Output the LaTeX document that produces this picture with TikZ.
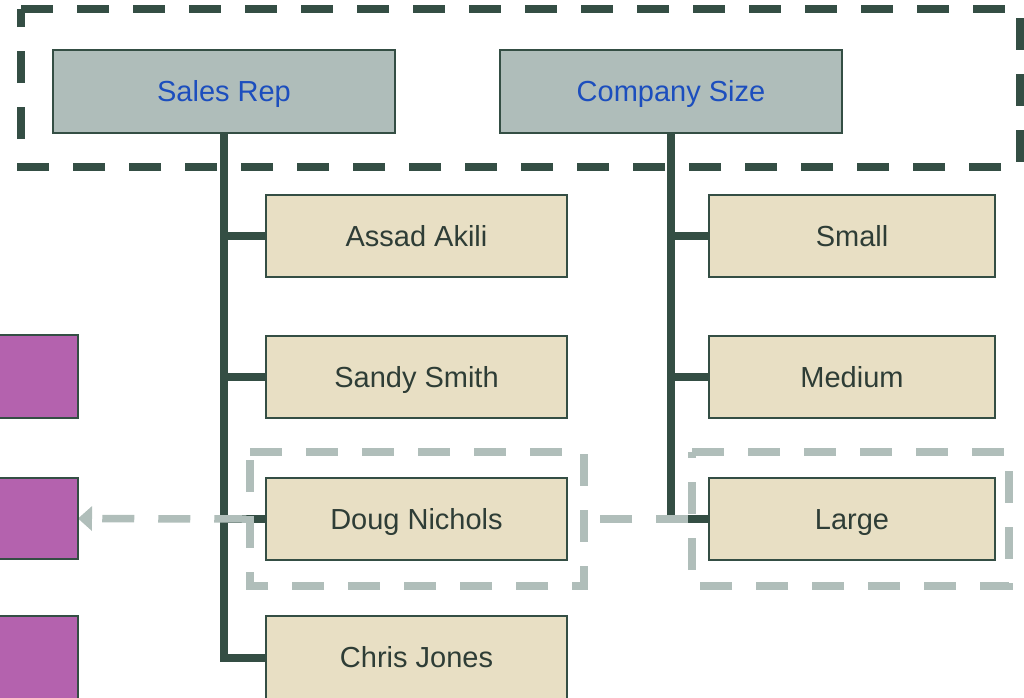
\documentclass[tikz,border=0pt]{standalone}
\usepackage{fontspec}
\setmainfont{Liberation Sans}
\usetikzlibrary{arrows.meta,backgrounds}
\definecolor{dk}{HTML}{344E44}
\definecolor{hdrfill}{HTML}{AFBDBA}
\definecolor{chfill}{HTML}{E8DFC4}
\definecolor{purp}{HTML}{B462AE}
\definecolor{lgray}{HTML}{B0BEBA}
\definecolor{hdrtext}{HTML}{1C4EBE}
\definecolor{chtext}{HTML}{2E3D36}
\tikzset{
  box/.style={draw=dk, line width=2.5pt, inner sep=0pt, outer sep=0pt,
              font=\fontsize{29}{34}\selectfont, text height=20.8pt, text depth=0pt},
  hdr/.style={box, fill=hdrfill, text=hdrtext, minimum width=342pt, minimum height=83pt},
  child/.style={box, fill=chfill, text=chtext, minimum width=301pt, minimum height=82pt},
  cchild/.style={box, fill=chfill, text=chtext, minimum width=286pt, minimum height=82pt},
  purpbox/.style={draw=dk, line width=2.5pt, fill=purp, outer sep=0pt, minimum width=98pt},
  trunk/.style={draw=dk, line width=8pt},
  region/.style={inner sep=0pt, outer sep=0pt},
  bigdash/.style={draw=dk, line width=8pt, dash pattern=on 32pt off 24pt},
  graydash/.style={draw=lgray, line width=7.5pt, dash pattern=on 32pt off 24pt}
}
\begin{document}
\begin{tikzpicture}[x=1pt,y=-1pt]
\useasboundingbox (0,0) rectangle (1024,697);
\clip (0,0) rectangle (1024,697);
% header nodes
\node[hdr] (sales) at (224,91.5) {Sales Rep};
\node[hdr] (csize) at (671,91.5) {Company Size};
% sales rep children
\node[child] (assad) at (416.5,236) {Assad Akili};
\node[child] (sandy) at (416.5,377) {Sandy Smith};
\node[child] (doug) at (416.5,519) {Doug Nichols};
\node[child, minimum height=83pt] (chris) at (416.5,657.5) {Chris Jones};
% company size children
\node[cchild] (small) at (852,236) {Small};
\node[cchild] (medium) at (852,377) {Medium};
\node[cchild] (large) at (852,519) {Large};
% purple boxes
\node[purpbox, minimum height=83pt] (p1) at (29,376.5) {};
\node[purpbox, minimum height=81pt] (p2) at (29,518.5) {};
\node[purpbox, minimum height=84pt] (p3) at (29,658) {};
\begin{scope}[on background layer]
  % big dark dashed frame
  \node[region, minimum width=999pt, minimum height=158pt] (frame) at (520.5,88) {};
  \draw[bigdash] (frame.north west) -- (frame.north east) -- (frame.south east)
        -- (frame.south west) -- cycle;
  % trunks
  \draw[trunk] (sales.south) |- (assad.west);
  \draw[trunk] (sales.south) |- (sandy.west);
  \draw[trunk] (sales.south) |- (doug.west);
  \draw[trunk] (sales.south) |- (chris.west);
  \draw[trunk] (csize.south) |- (small.west);
  \draw[trunk] (csize.south) |- (medium.west);
  \draw[trunk] (csize.south) |- (large.west);
  % gray dashed highlight frames
  \node[region, minimum width=334pt, minimum height=134pt] (ddash) at (417,519) {};
  \node[region, minimum width=317pt, minimum height=134pt] (ldash) at (850.5,519) {};
  \draw[graydash] (ddash.north west) -- (ddash.north east) -- (ddash.south east)
        -- (ddash.south west) -- cycle;
  \draw[graydash] (ldash.north west) -- (ldash.north east) -- (ldash.south east)
        -- (ldash.south west) -- cycle;
  % gray dashed connector
  \draw[graydash] ([xshift=-3.75pt]ldash.west) -- ([xshift=3.75pt]ddash.east);
  \draw[graydash, -{Triangle[length=14pt,width=24pt]}] ([xshift=-3.75pt]ddash.west) -- (p2.east);
\end{scope}
\end{tikzpicture}
\end{document}
